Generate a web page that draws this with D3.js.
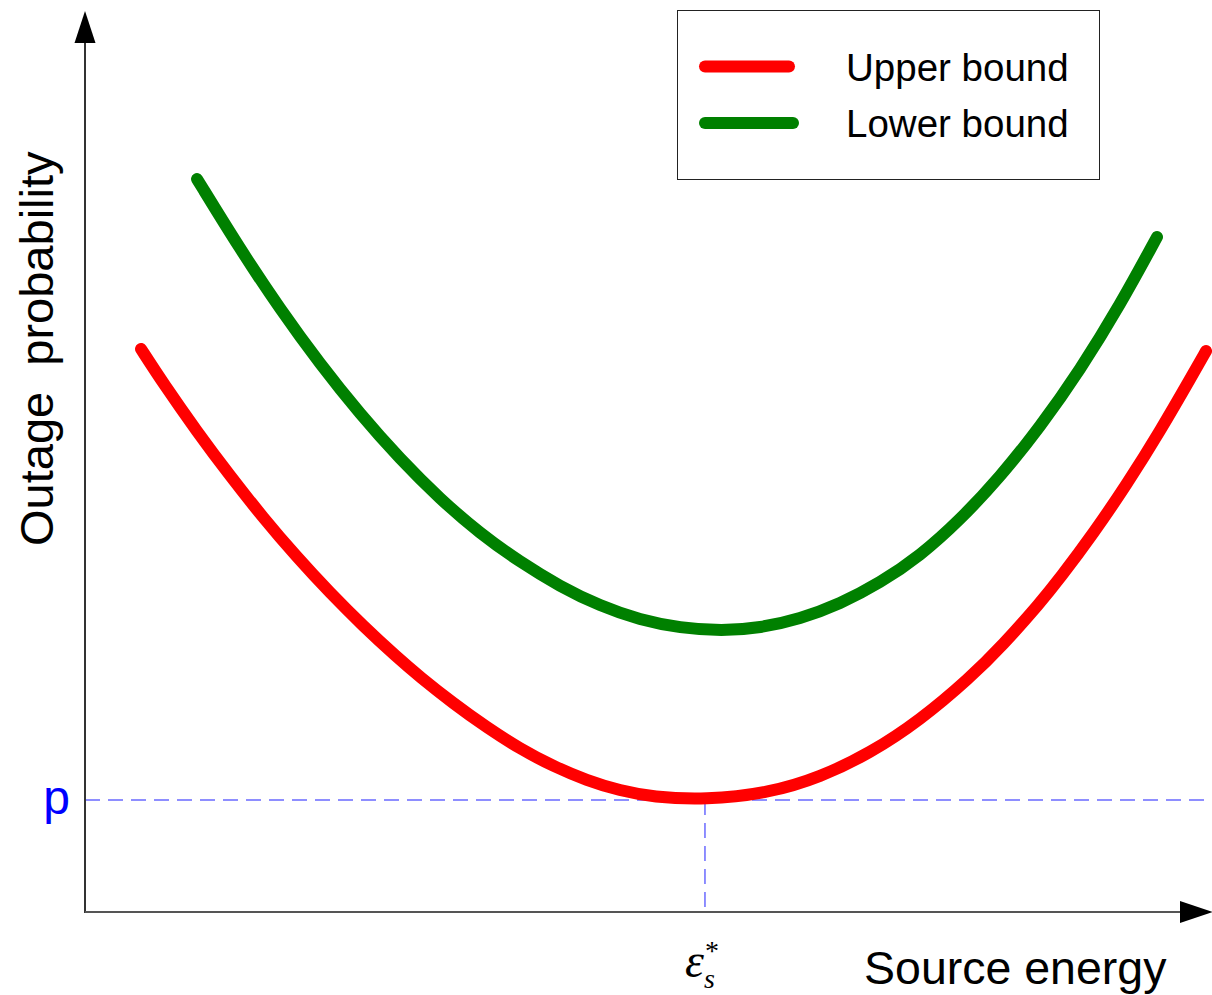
<!DOCTYPE html>
<html>
<head>
<meta charset="utf-8">
<script src="https://cdn.jsdelivr.net/npm/d3@7"></script>
<style>
  html, body { margin: 0; padding: 0; background: #fff; overflow: hidden; }
  svg { display: block; }
</style>
</head>
<body>
<svg id="chart" width="1212" height="995"></svg>
<script>
// Source energy (arbitrary units, 0–100) and outage probability (arbitrary units, 0–100)
const upperEnergy = [4.97, 6.92, 9.94, 12.87, 15.79, 18.81, 21.74, 24.67, 27.68, 29.73,
  32.65, 35.67, 38.60, 41.53, 44.54, 47.47, 50.40, 55.01, 60.78, 65.22,
  69.65, 74.09, 78.53, 81.46, 84.74, 86.51, 89.44, 92.46, 95.39, 98.31, 99.47];
const upperOutage = [62.56, 58.78, 53.37, 48.46, 43.83, 39.41, 35.46, 31.79, 28.31, 26.11,
  23.21, 20.49, 18.14, 16.20, 14.61, 13.48, 12.78, 12.44, 13.24, 14.97,
  17.63, 21.30, 26.02, 29.69, 34.33, 37.09, 42.00, 47.56, 53.42, 59.77, 62.33];

const lowerEnergy = [9.94, 13.75, 17.30, 20.85, 24.40, 27.95, 31.50, 35.05, 38.60, 42.15,
  45.70, 49.25, 52.80, 56.52, 59.89, 63.44, 66.99, 70.54, 74.09, 77.64,
  81.19, 84.74, 88.29, 91.84, 95.12];
const lowerOutage = [81.44, 73.67, 67.00, 60.89, 55.33, 50.33, 45.89, 42.06, 38.89, 36.17,
  34.00, 32.44, 31.56, 31.22, 31.56, 32.56, 34.22, 36.56, 39.56, 43.56,
  48.33, 53.89, 60.22, 67.44, 75.00];

// Target outage level p and the optimal source energy where the upper bound meets it
const targetOutage = 12.44;
const optimalEnergy = 55.01;

const seriesNames = ["Upper bound", "Lower bound"];
const seriesColors = ["#ff0000", "#008000"];
const xTitle = "Source energy";
const yTitle = "Outage\u00a0\u00a0probability";
const pLabel = "p";

const svg = d3.select("#chart");

const x = d3.scaleLinear().domain([0, 100]).range([85, 1212]);
const y = d3.scaleLinear().domain([0, 100]).range([912, 12]);

// Reference lines for p and ε*
const refColor = "#6a6aff";
svg.append("line")
  .attr("x1", x(0)).attr("x2", x(100))
  .attr("y1", y(targetOutage)).attr("y2", y(targetOutage))
  .attr("stroke", refColor).attr("stroke-width", 1.5)
  .attr("stroke-dasharray", "15,8");
svg.append("line")
  .attr("x1", x(optimalEnergy)).attr("x2", x(optimalEnergy))
  .attr("y1", y(targetOutage)).attr("y2", y(0))
  .attr("stroke", refColor).attr("stroke-width", 1.5)
  .attr("stroke-dasharray", "15,8");

// Axes with arrow heads
svg.append("line")
  .attr("x1", x(0)).attr("x2", x(0))
  .attr("y1", y(0) + 1).attr("y2", 40)
  .attr("stroke", "#333").attr("stroke-width", 2);
svg.append("line")
  .attr("x1", x(0)).attr("x2", 1182)
  .attr("y1", y(0)).attr("y2", y(0))
  .attr("stroke", "#555").attr("stroke-width", 2);
svg.append("path")
  .attr("d", `M${x(0)},11 L${x(0) - 10.5},43 L${x(0) + 10.5},43 Z`)
  .attr("fill", "#000");
svg.append("path")
  .attr("d", `M1213,${y(0)} L1180,${y(0) - 11} L1180,${y(0) + 11} Z`)
  .attr("fill", "#000");

// Curves
const line = d3.line()
  .x(d => x(d[0]))
  .y(d => y(d[1]))
  .curve(d3.curveBasis);

const series = [
  d3.zip(upperEnergy, upperOutage),
  d3.zip(lowerEnergy, lowerOutage)
];

svg.selectAll("path.curve")
  .data(series)
  .join("path")
  .attr("class", "curve")
  .attr("d", line)
  .attr("fill", "none")
  .attr("stroke", (d, i) => seriesColors[i])
  .attr("stroke-width", 12)
  .attr("stroke-linecap", "round")
  .attr("stroke-linejoin", "round");

// Axis titles and labels
const sans = "'Liberation Sans', Arial, Helvetica, sans-serif";
svg.append("text")
  .attr("x", 864).attr("y", 984)
  .attr("font-family", sans).attr("font-size", 46.5)
  .attr("fill", "#000")
  .text(xTitle);

svg.append("text")
  .attr("transform", "translate(53,546) rotate(-90)")
  .attr("font-family", sans).attr("font-size", 47)
  .attr("fill", "#000")
  .text(yTitle);

svg.append("text")
  .attr("x", 70).attr("y", 814)
  .attr("text-anchor", "end")
  .attr("font-family", sans).attr("font-size", 48)
  .attr("fill", "#0000ff")
  .text(pLabel);

// ε*_s label under the optimal energy
const serif = "'Liberation Serif', 'Times New Roman', serif";
const eps = svg.append("g").attr("font-family", serif).attr("font-style", "italic").attr("fill", "#000");
eps.append("text")
  .attr("x", x(optimalEnergy) - 1).attr("y", 977)
  .attr("text-anchor", "end")
  .attr("font-size", 48)
  .text("\u03b5");
eps.append("text")
  .attr("x", x(optimalEnergy) - 1).attr("y", 988)
  .attr("font-size", 28)
  .text("s");
eps.append("text")
  .attr("x", x(optimalEnergy)).attr("y", 960)
  .attr("font-style", "normal")
  .attr("font-size", 28)
  .text("*");

// Legend
const legend = svg.append("g");
legend.append("rect")
  .attr("x", 677.5).attr("y", 10.5)
  .attr("width", 422).attr("height", 169)
  .attr("fill", "#fff").attr("stroke", "#222").attr("stroke-width", 1);

const legendRows = [66.5, 123];
const legendEnds = [789, 793];
seriesNames.forEach((name, i) => {
  legend.append("line")
    .attr("x1", 705).attr("x2", legendEnds[i])
    .attr("y1", legendRows[i]).attr("y2", legendRows[i])
    .attr("stroke", seriesColors[i]).attr("stroke-width", 12)
    .attr("stroke-linecap", "round");
  legend.append("text")
    .attr("x", 846).attr("y", legendRows[i] + 14)
    .attr("font-family", sans).attr("font-size", 38.5)
    .attr("fill", "#000")
    .text(name);
});
</script>
</body>
</html>
